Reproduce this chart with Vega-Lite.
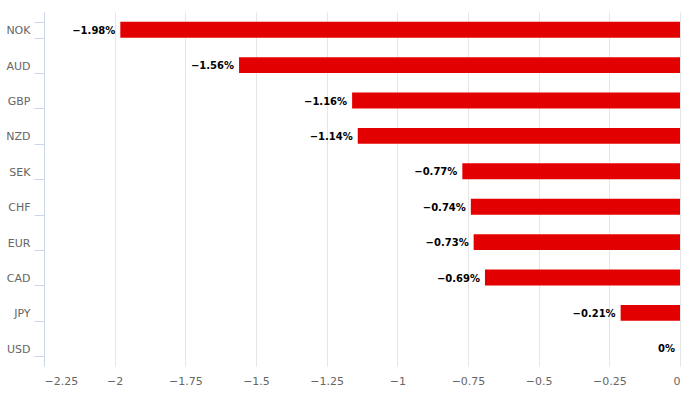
{
  "$schema": "https://vega.github.io/schema/vega-lite/v6.json",
  "width": 636,
  "height": 354,
  "autosize": {"type": "none"},
  "padding": {"left": 44, "top": 12, "right": 18, "bottom": 36},
  "background": "white",
  "config": {"view": {"stroke": null}, "font": "DejaVu Sans"},
  "data": {"values": [
    {"currency": "NOK", "change": -1.98},
    {"currency": "AUD", "change": -1.56},
    {"currency": "GBP", "change": -1.16},
    {"currency": "NZD", "change": -1.14},
    {"currency": "SEK", "change": -0.77},
    {"currency": "CHF", "change": -0.74},
    {"currency": "EUR", "change": -0.73},
    {"currency": "CAD", "change": -0.69},
    {"currency": "JPY", "change": -0.21},
    {"currency": "USD", "change": 0}
  ]},
  "transform": [{"calculate": "format(datum.change, '.2~f') + '%'", "as": "label"}],
  "encoding": {
    "y": {
      "field": "currency", "type": "nominal", "sort": null,
      "scale": {"paddingInner": 0.55, "paddingOuter": 0.275},
      "axis": {
        "title": null, "tickBand": "extent", "domainColor": "#ccd6eb", "tickColor": "#ccd6eb",
        "tickSize": 10, "labelPadding": 4, "labelColor": "#666666", "labelFontSize": 11,
        "labelOffset": 1, "grid": false
      }
    }
  },
  "layer": [
    {
      "mark": {"type": "bar", "color": "#e30000"},
      "encoding": {
        "x": {
          "field": "change", "type": "quantitative",
          "scale": {"domain": [-2.25, 0], "nice": false},
          "axis": {
            "title": null, "values": [-2.25, -2, -1.75, -1.5, -1.25, -1, -0.75, -0.5, -0.25, 0],
            "format": ".2~f", "domain": false, "ticks": false, "gridColor": "#e6e6e6",
            "labelColor": "#666666", "labelFontSize": 11, "labelPadding": 9
          }
        }
      }
    },
    {
      "mark": {"type": "text", "align": "right", "baseline": "middle", "dx": -5, "dy": 1, "fontWeight": "bold", "fontSize": 10, "color": "#000000"},
      "encoding": {
        "x": {"field": "change", "type": "quantitative"},
        "text": {"field": "label"}
      }
    }
  ]
}
